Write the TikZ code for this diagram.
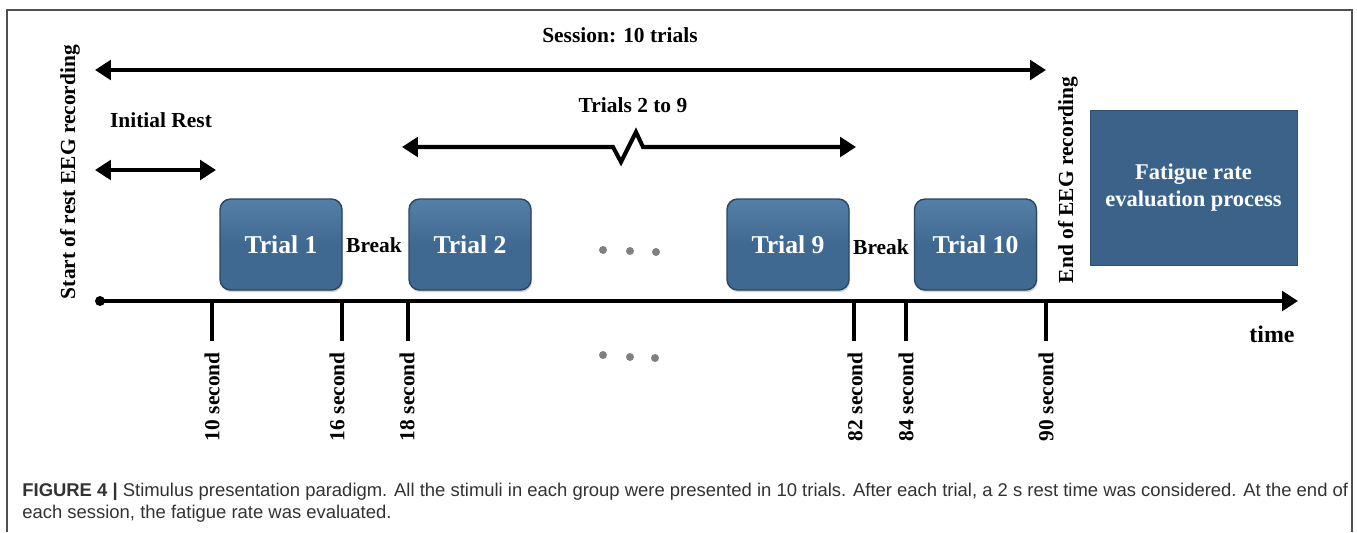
\documentclass[tikz,border=0pt]{standalone}
\usepackage{fontspec}
\setmainfont{Liberation Serif}
\newfontfamily\capfont{Liberation Sans}
\usetikzlibrary{arrows.meta,shadows}
\definecolor{boxblue}{RGB}{64,105,145}
\definecolor{boxtop}{RGB}{84,128,168}
\definecolor{boxedge}{RGB}{40,70,100}
\definecolor{fatblue}{RGB}{59,99,137}
\definecolor{framegray}{RGB}{80,80,80}
\definecolor{dotgray}{RGB}{128,128,128}
\definecolor{captext}{RGB}{50,50,50}
\tikzset{
  lbl/.style={font=\fontsize{12.2}{14}\selectfont\bfseries, inner sep=0pt},
  vlbl/.style={lbl, rotate=90},
  trialbox/.style={rounded corners=6pt, top color=boxtop, bottom color=boxblue, middle color=boxblue, draw=boxedge, line width=0.8pt,
    minimum width=2.44cm, minimum height=1.82cm, text=white, font=\fontsize{14.6}{16}\selectfont\bfseries,
    drop shadow={shadow xshift=0.6pt, shadow yshift=-1.2pt, opacity=0.35}},
  fatbox/.style={fill=fatblue, draw=fatblue!80!black, line width=0.4pt, minimum width=4.14cm, minimum height=3.1cm,
    text=white, font=\fontsize{12.8}{15.5}\selectfont\bfseries, align=center},
  span/.style={line width=2.3pt, {Triangle[length=9pt,width=11pt]}-{Triangle[length=9pt,width=11pt]}},
  tick/.style={line width=2.3pt},
  gdot/.style={circle, fill=dotgray, inner sep=0pt, minimum size=0.16cm},
  captxt/.style={anchor=base west, inner sep=0pt, text=captext, font=\capfont\fontsize{10.5}{12}\selectfont},
}
\begin{document}
\begin{tikzpicture}[x=0.02cm, y=-0.02cm]
\useasboundingbox (0,0) rectangle (1357,532);
% frame
\draw[framegray, line width=0.85pt] (7,532) -- (7,10) -- (1352,10) -- (1352,532);

% session arrow
\node[lbl] (sess) at (620,35) {Session: 10 trials};
\coordinate (s1) at (95,70);
\coordinate (s2) at (1046,70);
\draw[span] (s1) -- (s2);

% initial rest
\node[lbl] (irest) at (161,120) {Initial Rest};
\coordinate (r1) at (95,170);
\coordinate (r2) at (216,170);
\draw[span] (r1) -- (r2);

% trials 2 to 9
\node[lbl] (t29) at (633,105) {Trials 2 to 9};
\coordinate (a1) at (402,147);
\coordinate (a2) at (856,147);
\draw[span, line join=miter] (a1) -- (613,147) -- (621,162) -- (636,132) -- (643,147) -- (a2);

% vertical labels
\node[vlbl] (start) at (70,172) {Start of rest EEG recording};
\node[vlbl] (endrec) at (1068,180) {End of EEG recording};

% trial boxes
\node[trialbox] (tr1) at (281,244.5) {Trial 1};
\node[trialbox] (tr2) at (470,244.5) {Trial 2};
\node[trialbox] (tr9) at (788,244.5) {Trial 9};
\node[trialbox] (tr10) at (975.5,244.5) {Trial 10};
\node[lbl] (br1) at (374,245) {Break};
\node[lbl] (br2) at (881,247) {Break};

\node[gdot] (d1) at (603,250) {};
\node[gdot] (d2) at (630,251) {};
\node[gdot] (d3) at (656,252) {};

% fatigue box
\node[fatbox] (fat) at (1193.5,187.5) {Fatigue rate\\evaluation process};

% timeline
\node[circle, fill=black, inner sep=0pt, minimum size=0.2cm] (t0) at (100,301) {};
\coordinate (tend) at (1298,301);
\draw[line width=2.3pt, -{Triangle[length=9pt,width=11pt]}] (t0.center) -- (tend);
\node[font=\fontsize{13.6}{15}\selectfont\bfseries, inner sep=0pt] (time) at (1272,334) {time};

% ticks
\foreach \x/\n in {212/a, 342/b, 408/c, 854/d, 906/e, 1046/f}{
  \coordinate (tk\n) at (\x,301);
  \coordinate (tb\n) at (\x,341);
  \draw[tick] (tk\n) -- (tb\n);
}
\node[vlbl, anchor=east] (l10) at (212,352) {10 second};
\node[vlbl, anchor=east] (l16) at (337,352) {16 second};
\node[vlbl, anchor=east] (l18) at (407,352) {18 second};
\node[vlbl, anchor=east] (l82) at (855,352) {82 second};
\node[vlbl, anchor=east] (l84) at (906,352) {84 second};
\node[vlbl, anchor=east] (l90) at (1046,352) {90 second};

\node[gdot] (e1) at (603,355) {};
\node[gdot] (e2) at (630,357) {};
\node[gdot] (e3) at (655,358) {};

% caption
\node[captxt] (cap1) at (22,496)
  {\textbf{FIGURE 4 |} Stimulus presentation paradigm. All the stimuli in each group were presented in 10 trials. After each trial, a 2 s rest time was considered. At the end of};
\node[captxt] (cap2) at (22,518)
  {each session, the fatigue rate was evaluated.};
\end{tikzpicture}
\end{document}
